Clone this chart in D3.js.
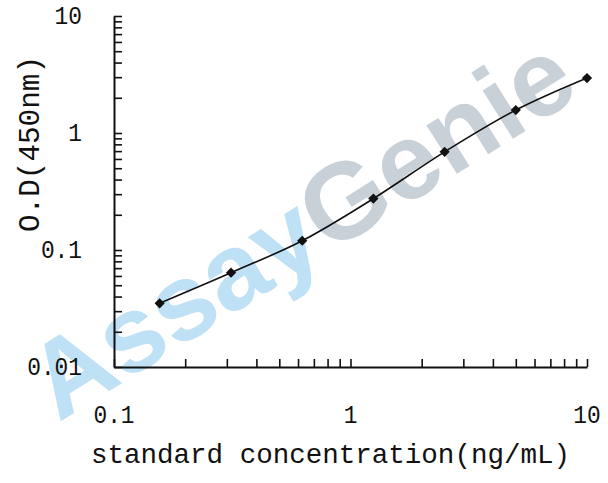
<!DOCTYPE html>
<html>
<head>
<meta charset="utf-8">
<script src="https://cdn.jsdelivr.net/npm/d3@7.9.0/dist/d3.min.js"></script>
<style>
  html, body { margin: 0; padding: 0; background: #fff; }
  svg { display: block; }
  .lbl { font-family: "Liberation Mono", "Courier New", monospace; fill: #111; }
</style>
</head>
<body>
<svg id="chart" width="608" height="483"></svg>
<script>
// standard curve: concentration (ng/mL) vs O.D at 450nm
const concentrations = [0.156, 0.3125, 0.625, 1.25, 2.5, 5, 10];
const odValues = [0.035, 0.064, 0.12, 0.275, 0.69, 1.57, 2.95];

const xTickValues = [0.1, 1, 10];
const xTickLabels = ["0.1", "1", "10"];
const yTickValues = [0.01, 0.1, 1, 10];
const yTickLabels = ["0.01", "0.1", "1", "10"];

const xTitle = "standard concentration(ng/mL)";
const yTitle = "O.D(450nm)";

const svg = d3.select('#chart');

// watermark behind the chart
const wm = svg.append('text')
  .attr('transform', 'translate(300,226) rotate(-32)')
  .attr('text-anchor', 'middle')
  .attr('dy', '0.36em')
  .style('font-family', '"Liberation Sans", Arial, sans-serif')
  .style('font-weight', 'bold')
  .style('font-size', '108px');
wm.append('tspan').attr('fill', '#bfe1f5').text('Assay');
wm.append('tspan').attr('fill', '#c8d0d8').text('Genie');

const plotLeft = 114, plotRight = 587, plotTop = 16, plotBottom = 367;

const x = d3.scaleLog().domain([0.1, 10]).range([plotLeft, plotRight]);
const y = d3.scaleLog().domain([0.01, 10]).range([plotBottom, plotTop]);

// axes: ticks point inward, no labels from d3 (drawn below)
const xAxis = d3.axisBottom(x).tickSizeInner(-8).tickSizeOuter(0).tickFormat('');
const yAxis = d3.axisLeft(y).tickSizeInner(-8).tickSizeOuter(0).tickFormat('');

const gx = svg.append('g').attr('transform', `translate(0,${plotBottom})`).call(xAxis);
const gy = svg.append('g').attr('transform', `translate(${plotLeft},0)`).call(yAxis);

[gx, gy].forEach(g => {
  g.select('.domain').attr('stroke', '#111').attr('stroke-width', 2);
  g.selectAll('.tick line').attr('stroke', '#111').attr('stroke-width', 1.6);
});

// tick labels
svg.selectAll('.xlab')
  .data(xTickValues)
  .join('text')
  .attr('class', 'lbl')
  .attr('x', d => x(d))
  .attr('y', 423)
  .attr('text-anchor', 'middle')
  .style('font-size', '25px')
  .attr('textLength', (d, i) => xTickLabels[i].length * 13.7)
  .attr('lengthAdjust', 'spacingAndGlyphs')
  .text((d, i) => xTickLabels[i]);

svg.selectAll('.ylab')
  .data(yTickValues)
  .join('text')
  .attr('class', 'lbl')
  .attr('x', 82)
  .attr('y', d => y(d) + 8)
  .attr('text-anchor', 'end')
  .style('font-size', '25px')
  .attr('textLength', (d, i) => yTickLabels[i].length * 13.7)
  .attr('lengthAdjust', 'spacingAndGlyphs')
  .text((d, i) => yTickLabels[i]);

// axis titles
svg.append('text')
  .attr('class', 'lbl')
  .attr('x', 91)
  .attr('y', 463)
  .style('font-size', '28px')
  .attr('textLength', 479)
  .attr('lengthAdjust', 'spacingAndGlyphs')
  .text(xTitle);

svg.append('text')
  .attr('class', 'lbl')
  .attr('transform', 'translate(39,144) rotate(-90)')
  .attr('text-anchor', 'middle')
  .style('font-size', '29px')
  .attr('textLength', 176)
  .attr('lengthAdjust', 'spacingAndGlyphs')
  .text(yTitle);

// curve and markers
const pts = concentrations.map((c, i) => [c, odValues[i]]);

const line = d3.line()
  .x(d => x(d[0]))
  .y(d => y(d[1]))
  .curve(d3.curveCatmullRom);

svg.append('path')
  .datum(pts)
  .attr('d', line)
  .attr('fill', 'none')
  .attr('stroke', '#111')
  .attr('stroke-width', 1.6);

const marker = d3.symbol().type(d3.symbolSquare).size(52);

svg.selectAll('.pt')
  .data(pts)
  .join('path')
  .attr('d', marker)
  .attr('transform', d => `translate(${x(d[0])},${y(d[1])}) rotate(45)`)
  .attr('fill', '#111');
</script>
</body>
</html>
